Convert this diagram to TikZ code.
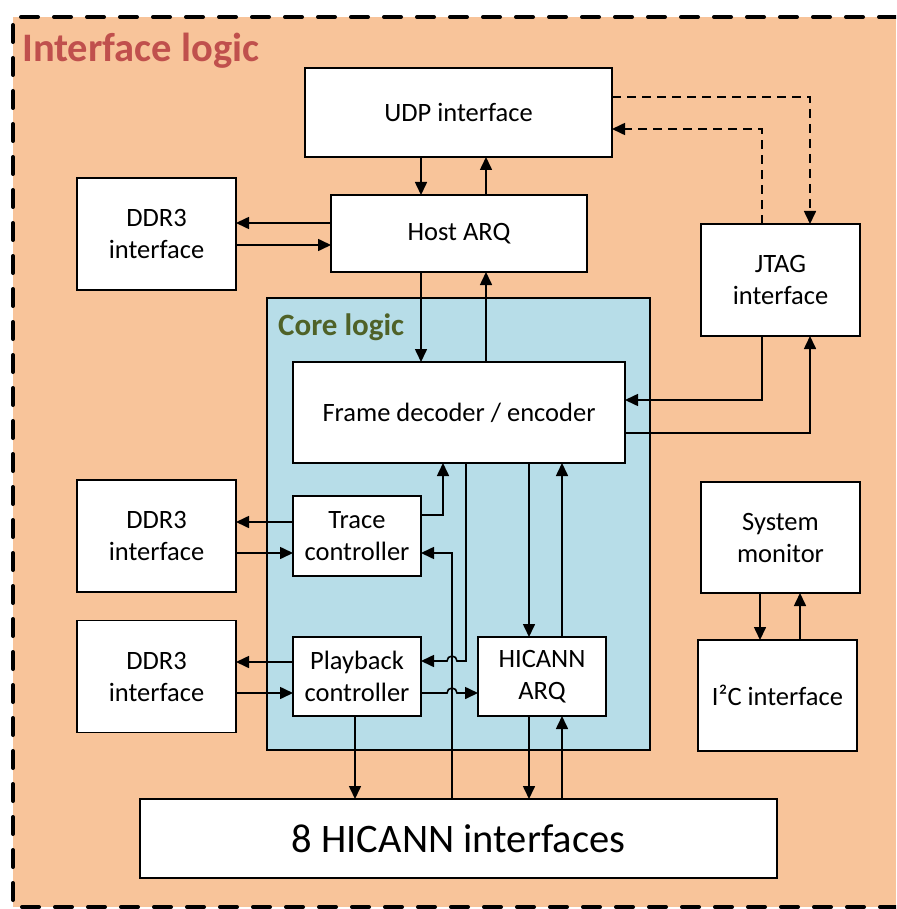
\documentclass[tikz,border=0pt]{standalone}
\usepackage{fontspec}
\setmainfont{Carlito}
\usetikzlibrary{calc,arrows.meta}

\definecolor{ifacebg}{HTML}{F8C49A}
\definecolor{corebg}{HTML}{B7DDE8}
\definecolor{ifacered}{HTML}{C0504D}
\definecolor{coregreen}{HTML}{4F6228}
\newcommand{\boxfont}{\fontsize{26.5}{32}\selectfont}

\begin{document}
\begin{tikzpicture}[x=1pt,y=-1pt,
    box/.style={draw, fill=white, line width=1.6pt, inner sep=0pt, outer sep=0pt,
      align=center, font=\boxfont},
    arr/.style={-{Triangle[length=13pt,width=12pt]}, line width=1.6pt},
    dsh/.style={arr, dash pattern=on 9pt off 6pt}]
  \useasboundingbox (0,0) rectangle (896,909);
  \clip (0,0) rectangle (896,909);

  % Interface logic frame
  \fill[ifacebg] (13,17) rectangle (896,907);
  \draw[line width=4pt, line cap=round, dash pattern=on 17pt off 16pt] (896,17) -- (13,17) -- (13,907) -- (896,907);
  \node[anchor=base west, inner sep=0pt, text=ifacered, font=\fontsize{40.5}{48}\selectfont\bfseries] (ifacelbl) at (22,62) {Interface logic};

  % Core logic region
  \draw[fill=corebg, line width=1.6pt] (267,298) rectangle (650,750);
  \node[anchor=base west, inner sep=0pt, text=coregreen, font=\fontsize{31}{36}\selectfont\bfseries] (corelbl) at (278,335) {Core logic};

  % Boxes
  \node[box, minimum width=307pt, minimum height=89pt] (udp) at (458.5,112.5) {UDP interface};
  \node[box, minimum width=256pt, minimum height=77pt] (host) at (459,233.5) {Host ARQ};
  \foreach \name/\yc in {ddrA/234, ddrB/536, ddrC/676.5}{
    \node[box, minimum width=159pt, minimum height=112pt] (\name) at (156.5,\yc) {DDR3\\interface};
  }
  \node[box, minimum width=159pt, minimum height=112pt] (jtag) at (780.5,280) {JTAG\\interface};
  \node[box, minimum width=332pt, minimum height=101pt] (frame) at (459,412.5) {Frame decoder / encoder};
  \node[box, minimum width=128pt, minimum height=80pt] (trace) at (357,536) {Trace\\controller};
  \node[box, minimum width=128pt, minimum height=79pt] (play) at (357,676.5) {Playback\\controller};
  \node[box, minimum width=128pt, minimum height=79pt] (harq) at (542,676.5) {HICANN\\ARQ};
  \node[box, minimum width=159pt, minimum height=111pt] (sysmon) at (780.5,537.5) {System\\monitor};
  \node[box, minimum width=159pt, minimum height=111pt] (i2c) at (777.5,695.5) {I²C interface};
  \node[box, minimum width=637pt, minimum height=79pt, font=\fontsize{40.5}{48}\selectfont] (hic) at (458.5,838.5) {8 HICANN interfaces};

  % UDP <-> Host ARQ <-> Frame
  \draw[arr] (udp.south -| 421,0) -- (host.north -| 421,0);
  \draw[arr] (host.north -| 486,0) -- (udp.south -| 486,0);
  \draw[arr] (host.south -| 421,0) -- (frame.north -| 421,0);
  \draw[arr] (frame.north -| 486,0) -- (host.south -| 486,0);
  \draw[arr] (host.west |- 0,223) -- (ddrA.east |- 0,223);
  \draw[arr] (ddrA.east |- 0,245) -- (host.west |- 0,245);

  % JTAG
  \draw[dsh] (udp.east |- 0,97) -| (jtag.north -| 810,0);
  \draw[dsh] (jtag.north -| 762,0) |- (udp.east |- 0,129);
  \draw[arr] (jtag.south -| 762,0) |- (frame.east |- 0,400);
  \draw[arr] (frame.east |- 0,433) -| (jtag.south -| 810,0);

  % Trace controller
  \draw[arr] (trace.east |- 0,515) -| (frame.south -| 443,0);
  \draw[arr] (trace.west |- 0,522) -- (ddrB.east |- 0,522);
  \draw[arr] (ddrB.east |- 0,553) -- (trace.west |- 0,553);
  \draw[arr] (hic.north -| 452,0) |- (trace.east |- 0,553);

  % Playback controller
  \draw[arr] (frame.south -| 466,0) -- (466,661) -- (457,661) arc (0:-180:5) -- (play.east |- 0,661);
  \draw[arr] (play.east |- 0,693) -- (447,693) arc (180:360:5) -- (harq.west |- 0,693);
  \draw[arr] (play.west |- 0,662) -- (ddrC.east |- 0,662);
  \draw[arr] (ddrC.east |- 0,693) -- (play.west |- 0,693);
  \draw[arr] (play.south -| 355,0) -- (hic.north -| 355,0);

  % HICANN ARQ
  \draw[arr] (frame.south -| 529,0) -- (harq.north -| 529,0);
  \draw[arr] (harq.north -| 562,0) -- (frame.south -| 562,0);
  \draw[arr] (harq.south -| 529,0) -- (hic.north -| 529,0);
  \draw[arr] (hic.north -| 562,0) -- (harq.south -| 562,0);

  % System monitor
  \draw[arr] (sysmon.south -| 760,0) -- (i2c.north -| 760,0);
  \draw[arr] (i2c.north -| 800,0) -- (sysmon.south -| 800,0);

\end{tikzpicture}
\end{document}
